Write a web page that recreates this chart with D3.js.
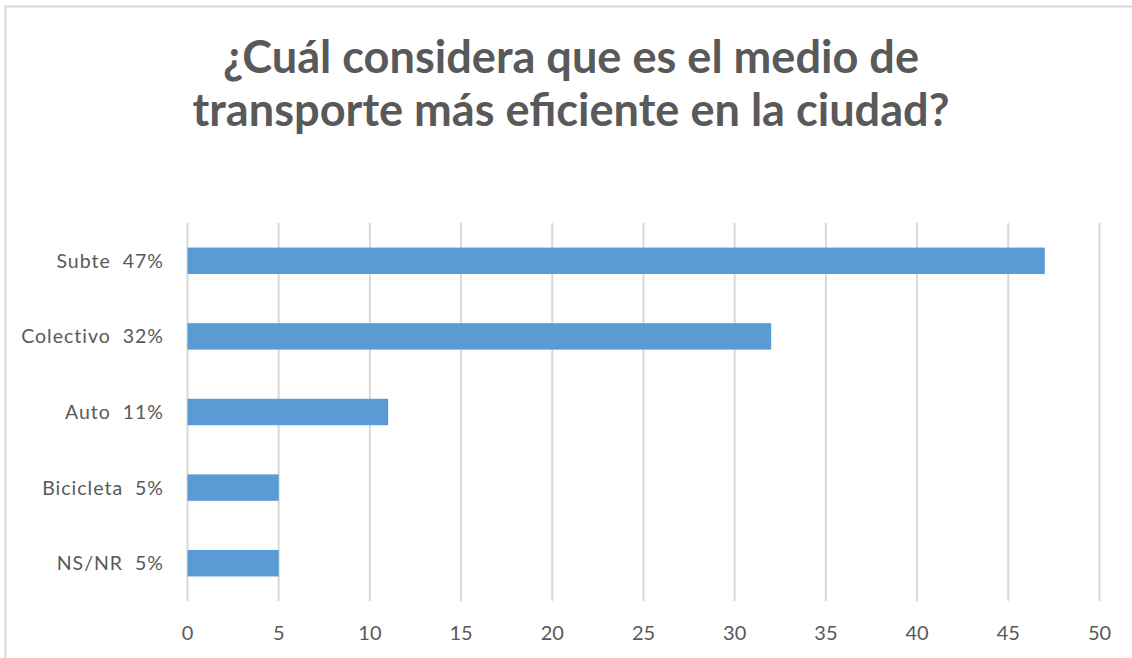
<!DOCTYPE html>
<html>
<head>
<meta charset="utf-8">
<script src="https://cdn.jsdelivr.net/npm/d3@7"></script>
<style>
  body { margin: 0; background: #fff; }
  svg { display: block; }
  text { font-family: Lato, "Open Sans", sans-serif; fill: #595959; }
</style>
</head>
<body>
<svg></svg>
<script>
var categories = ["Subte", "Colectivo", "Auto", "Bicicleta", "NS/NR"];
var values = [47, 32, 11, 5, 5];
var tickValues = [0, 5, 10, 15, 20, 25, 30, 35, 40, 45, 50];
var titleLines = ["¿Cuál considera que es el medio de", "transporte más eficiente en la ciudad?"];

var width = 1132, height = 658;
var svg = d3.select("svg").attr("width", width).attr("height", height);

// chart area border
svg.append("rect")
    .attr("x", 5.5).attr("y", 6.5)
    .attr("width", width + 10).attr("height", height + 10)
    .attr("fill", "none")
    .attr("stroke", "#d9d9d9")
    .attr("stroke-width", 2);

var x = d3.scaleLinear().domain([0, 50]).range([187.5, 1099.5]);
var y = d3.scaleBand().domain(categories).range([223, 601]).paddingInner(0.65).paddingOuter(0.325);

// gridlines
svg.append("g")
    .selectAll("line")
    .data(tickValues)
    .join("line")
    .attr("x1", d => x(d)).attr("x2", d => x(d))
    .attr("y1", 223).attr("y2", 601)
    .attr("stroke", "#d9d9d9")
    .attr("stroke-width", 2);

// bars
svg.append("g")
    .selectAll("rect")
    .data(values)
    .join("rect")
    .attr("x", x(0))
    .attr("y", (d, i) => y(categories[i]))
    .attr("width", d => x(d) - x(0))
    .attr("height", y.bandwidth())
    .attr("fill", "#5b9bd5");

// category labels
svg.append("g")
    .selectAll("text")
    .data(categories)
    .join("text")
    .attr("x", 164)
    .attr("y", d => y(d) + y.bandwidth() / 2)
    .attr("dy", "0.36em")
    .attr("text-anchor", "end")
    .style("font-size", "19.5px")
    .style("letter-spacing", "1px")
    .text((d, i) => d + "\u00a0\u00a0" + values[i] + "%");

// x tick labels
svg.append("g")
    .selectAll("text")
    .data(tickValues)
    .join("text")
    .attr("x", d => x(d))
    .attr("y", 640)
    .attr("text-anchor", "middle")
    .style("font-size", "20px")
    .text(d => d);

// title
var title = svg.append("g")
    .selectAll("text")
    .data(titleLines)
    .join("text")
    .attr("x", 571)
    .attr("y", (d, i) => 73 + i * 53)
    .attr("text-anchor", "middle")
    .style("font-weight", "bold")
    .style("font-size", "36px")
    .text(d => d);

// fit the second line to the reference width
var w = title.nodes()[1].getComputedTextLength();
var fs = 36 * 757 / w;
title.style("font-size", fs + "px");
</script>
</body>
</html>
